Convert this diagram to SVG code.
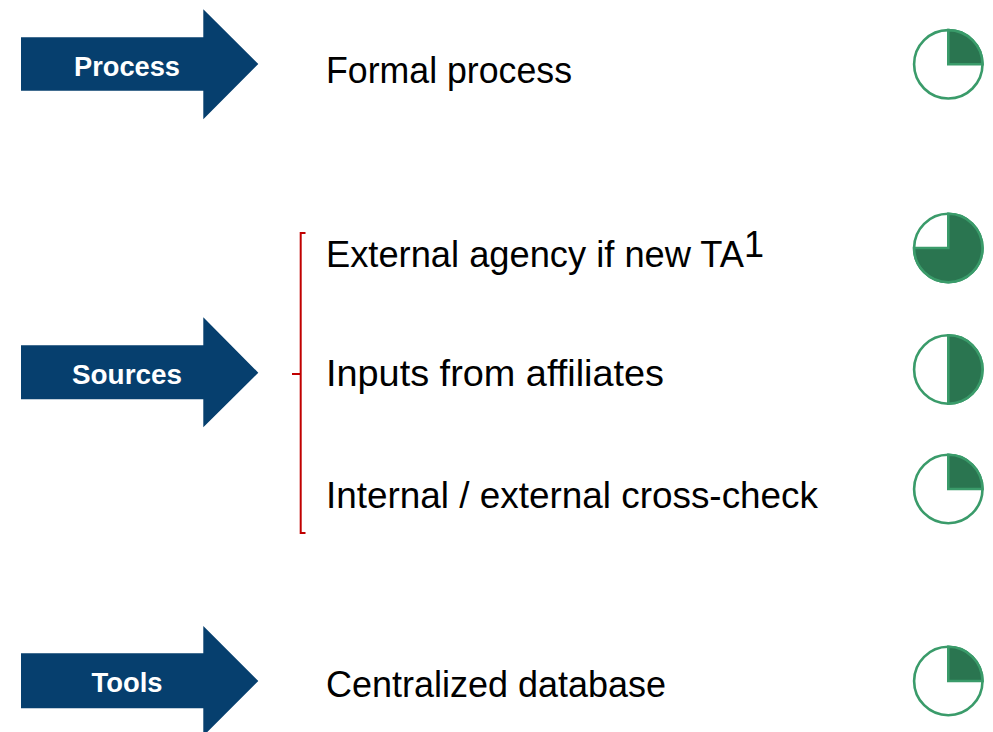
<svg xmlns="http://www.w3.org/2000/svg" width="993" height="732" viewBox="0 0 993 732">
<style>
.arrow{fill:#063f6e}
.lbl{font-family:"Liberation Sans",Arial,sans-serif;font-weight:bold;font-size:27px;fill:#fff;text-anchor:middle}
.txt{font-family:"Liberation Sans",Arial,sans-serif;font-size:36px;fill:#000}
.ring{fill:#fff;stroke:#3a9b6a;stroke-width:2.6}
.wedge{fill:#2a7550;stroke:#3a9b6a;stroke-width:2.6;stroke-linejoin:miter}
</style>
<rect width="993" height="732" fill="#fff"/>
<g id="arrow-process">
<path class="arrow" d="M21,37.3 H203.3 V9.3 L258.3,64 L203.3,119.3 V90.7 H21 Z"/>
<text class="lbl" x="127" y="76" textLength="106" lengthAdjust="spacingAndGlyphs">Process</text>
</g>
<g id="arrow-sources">
<path class="arrow" d="M21,345.3 H203.3 V317.3 L258.3,372.7 L203.3,427.3 V399.3 H21 Z"/>
<text class="lbl" x="127" y="384" textLength="110" lengthAdjust="spacingAndGlyphs">Sources</text>
</g>
<g id="arrow-tools">
<path class="arrow" d="M21,653.3 H203.3 V626 L258.3,681 L203.3,736 V708.3 H21 Z"/>
<text class="lbl" x="127" y="692" textLength="71" lengthAdjust="spacingAndGlyphs">Tools</text>
</g>
<g id="item-formal">
<text class="txt" x="326" y="82.7" textLength="246" lengthAdjust="spacingAndGlyphs">Formal process</text>
</g>
<g id="item-external">
<text class="txt" x="326" y="267" textLength="418" lengthAdjust="spacingAndGlyphs">External agency if new TA</text>
<text class="txt" x="744" y="256.5" font-size="23">1</text>
</g>
<g id="item-inputs">
<text class="txt" x="326" y="386" textLength="338" lengthAdjust="spacingAndGlyphs">Inputs from affiliates</text>
</g>
<g id="item-internal">
<text class="txt" x="326" y="508" textLength="492" lengthAdjust="spacingAndGlyphs">Internal / external cross-check</text>
</g>
<g id="item-database">
<text class="txt" x="326" y="697" textLength="340" lengthAdjust="spacingAndGlyphs">Centralized database</text>
</g>
<g id="bracket">
<path d="M305.5,233 H300.7 V533 H305.5 M300.7,374 H292" fill="none" stroke="#c00000" stroke-width="2"/>
</g>
<g id="pie-formal">
<circle class="ring" cx="948.3" cy="64.3" r="34.2"/>
<path class="wedge" d="M948.3,64.3 V30.1 A34.2,34.2 0 0 1 982.5,64.3 Z"/>
</g>
<g id="pie-external">
<circle class="ring" cx="948.3" cy="248" r="34.2"/>
<path class="wedge" d="M948.3,248 V213.8 A34.2,34.2 0 1 1 914.1,248 Z"/>
</g>
<g id="pie-inputs">
<circle class="ring" cx="948.3" cy="369.5" r="34.2"/>
<path class="wedge" d="M948.3,369.5 V335.3 A34.2,34.2 0 0 1 948.3,403.7 Z"/>
</g>
<g id="pie-internal">
<circle class="ring" cx="948.3" cy="489" r="34.2"/>
<path class="wedge" d="M948.3,489 V454.8 A34.2,34.2 0 0 1 982.5,489 Z"/>
</g>
<g id="pie-database">
<circle class="ring" cx="948.3" cy="681" r="34.2"/>
<path class="wedge" d="M948.3,681 V646.8 A34.2,34.2 0 0 1 982.5,681 Z"/>
</g>
<g id="connectors"></g>
</svg>
